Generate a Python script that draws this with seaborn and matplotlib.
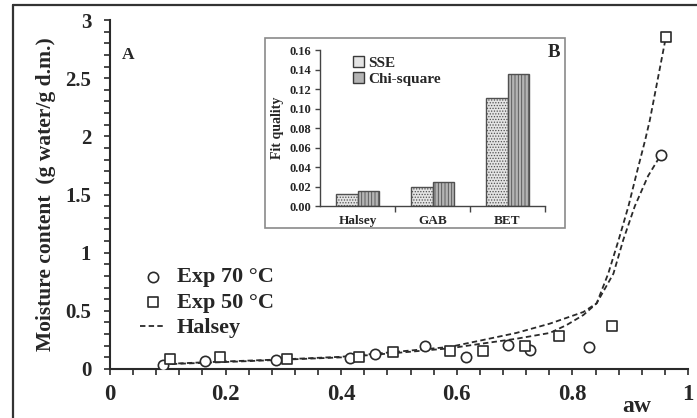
import numpy as np
import pandas as pd
import matplotlib
matplotlib.use("Agg")
import matplotlib.pyplot as plt
from matplotlib.lines import Line2D
from matplotlib.patches import Rectangle
from matplotlib.ticker import MultipleLocator, FixedLocator
import seaborn as sns

# ---------------- data ----------------
exp70_aw = [0.092, 0.164, 0.288, 0.416, 0.458, 0.545, 0.616, 0.689, 0.727, 0.829, 0.953]
exp70_m = [0.034, 0.070, 0.077, 0.092, 0.129, 0.198, 0.106, 0.204, 0.163, 0.192, 1.84]
exp50_aw = [0.103, 0.191, 0.306, 0.430, 0.489, 0.588, 0.646, 0.718, 0.776, 0.868, 0.962]
exp50_m = [0.086, 0.106, 0.083, 0.100, 0.149, 0.158, 0.158, 0.201, 0.284, 0.370, 2.857]

halsey70_aw = [0.092, 0.2, 0.3, 0.4, 0.5, 0.588, 0.646, 0.703, 0.761, 0.79, 0.819, 0.842,
               0.871, 0.888, 0.908, 0.931, 0.953]
halsey70_m = [0.040, 0.060, 0.080, 0.100, 0.140, 0.178, 0.220, 0.260, 0.310, 0.378, 0.464, 0.565,
              0.82, 1.11, 1.40, 1.66, 1.84]
halsey50_aw = [0.103, 0.2, 0.3, 0.4, 0.5, 0.588, 0.646, 0.703, 0.761, 0.819, 0.842, 0.862,
               0.880, 0.897, 0.911, 0.926, 0.934, 0.962]
halsey50_m = [0.045, 0.065, 0.083, 0.105, 0.150, 0.190, 0.250, 0.310, 0.390, 0.490, 0.565, 0.82,
              1.11, 1.40, 1.68, 1.97, 2.14, 2.86]

models = ["Halsey", "GAB", "BET"]
sse = [0.013, 0.020, 0.111]
chi_square = [0.016, 0.025, 0.136]

x_ticks = [0, 0.2, 0.4, 0.6, 0.8, 1.0]
x_ticklabels = ["0", "0.2", "0.4", "0.6", "0.8", "1"]
y_ticks = [0, 0.5, 1, 1.5, 2, 2.5, 3]
y_ticklabels = ["0", "0.5", "1", "1.5", "2", "2.5", "3"]
inset_ticks = [0.00, 0.02, 0.04, 0.06, 0.08, 0.10, 0.12, 0.14, 0.16]

# ---------------- style ----------------
sns.set_theme(style="white")
plt.rcParams["font.family"] = ["Liberation Serif", "DejaVu Serif"]
plt.rcParams["font.weight"] = "bold"
plt.rcParams["hatch.linewidth"] = 0.6

W, H = 697, 418
fig = plt.figure(figsize=(W / 100, H / 100), dpi=100)

def fx(px):
    return px / W

def fy(py):
    return 1 - py / H

ink = "#2a2a2a"

# outer border of the figure
fig.add_artist(Line2D([fx(13), fx(13)], [fy(5), 0], color="#333333", lw=1.6))
fig.add_artist(Line2D([fx(13), 1], [fy(5), fy(5)], color="#333333", lw=1.6))

# ---------------- main axes ----------------
ax = fig.add_axes([fx(110), fy(369), fx(688) - fx(110), fy(20) - fy(369)])
ax.set_zorder(0)

sns.lineplot(x=halsey70_aw, y=halsey70_m, ax=ax, color=ink, lw=1.3, sort=False,
             estimator=None, label="Halsey", linestyle=(0, (3.0, 1.8)))
sns.lineplot(x=halsey50_aw, y=halsey50_m, ax=ax, color=ink, lw=1.3, sort=False,
             estimator=None, label="_nolegend_", linestyle=(0, (3.0, 1.8)))
sns.scatterplot(x=exp70_aw, y=exp70_m, ax=ax, marker="o", s=55, facecolor="white",
                edgecolor=ink, linewidth=1.2, label="Exp 70 °C", zorder=3)
sns.scatterplot(x=exp50_aw, y=exp50_m, ax=ax, marker="s", s=62, facecolor="white",
                edgecolor=ink, linewidth=1.2, label="Exp 50 °C", zorder=3)

ax.set_xlim(0, 1)
ax.set_ylim(0, 3)
for s in ["top", "right"]:
    ax.spines[s].set_visible(False)
for s in ["left", "bottom"]:
    ax.spines[s].set_color(ink)
    ax.spines[s].set_linewidth(1.5)
ax.set_xticks(x_ticks)
ax.set_xticklabels(x_ticklabels, fontsize=16.5, fontweight="bold")
ax.set_yticks(y_ticks)
ax.set_yticklabels(y_ticklabels, fontsize=15, fontweight="bold")
ax.xaxis.set_minor_locator(MultipleLocator(0.04))
ax.yaxis.set_minor_locator(MultipleLocator(0.1))
ax.tick_params(axis="both", which="both", direction="out", length=4.5, width=1.2,
               color=ink, bottom=True, left=True)
ax.tick_params(axis="x", which="major", pad=6)
ax.tick_params(axis="y", which="major", pad=9)
ax.set_xlabel("")
ax.set_ylabel("Moisture content  (g water/g d.m.)", fontsize=15.5, fontweight="bold", labelpad=7)
ax.grid(False)

fig.text(fx(637), fy(407), "aw", fontsize=17, fontweight="bold", ha="center", va="center")
fig.text(fx(128), fy(55), "A", fontsize=12.5, fontweight="bold", ha="center", va="center")

h, l = ax.get_legend_handles_labels()
order = [l.index("Exp 70 °C"), l.index("Exp 50 °C"), l.index("Halsey")]
leg = ax.legend([h[i] for i in order], [l[i] for i in order], loc="upper left",
                bbox_to_anchor=(0.018, 0.35), frameon=False, handlelength=1.15,
                handletextpad=0.5, labelspacing=0.22,
                prop={"family": "Liberation Serif", "weight": "bold", "size": 16})

# ---------------- inset ----------------
fig.add_artist(Rectangle((fx(265), fy(228)), fx(565) - fx(265), fy(38) - fy(228),
                         transform=fig.transFigure, facecolor="white",
                         edgecolor="#8a8a8a", lw=1.2, zorder=1))

axi = fig.add_axes([fx(320), fy(206.2), fx(545) - fx(320), fy(50.4) - fy(206.2)])
axi.set_zorder(2)
axi.patch.set_alpha(0)

df = pd.DataFrame({
    "model": models * 2,
    "value": sse + chi_square,
    "metric": ["SSE"] * 3 + ["Chi-square"] * 3,
})
sns.barplot(data=df, x="model", y="value", hue="metric", ax=axi, width=0.58,
            palette=["#e4e4e4", "#b4b4b4"], edgecolor="#3a3a3a", linewidth=1.0,
            saturation=1, legend=True)
styles = [("#e4e4e4", "......"), ("#b4b4b4", "|||||")]
for cont, (fc, hatch) in zip(axi.containers, styles):
    for p in cont:
        p.set_facecolor(fc)
        p.set_hatch(hatch)
        p.set_edgecolor("#505050")

axi.set_ylim(0, 0.16)
axi.set_xlim(-0.5, 2.5)
axi.set_yticks(inset_ticks)
axi.set_yticklabels([f"{v:.2f}" for v in inset_ticks], fontsize=9, fontweight="bold")
axi.set_xticks(range(3))
axi.set_xticklabels(models, fontsize=9.5, fontweight="bold")
axi.xaxis.set_minor_locator(FixedLocator([0.5, 1.5, 2.5]))
axi.tick_params(axis="x", which="major", length=0, pad=6)
axi.tick_params(axis="x", which="minor", direction="out", length=4, width=1, color="#444444", bottom=True)
axi.tick_params(axis="y", which="major", direction="out", length=3.5, width=1, color="#444444",
                left=True, pad=3)
for s in ["top", "right"]:
    axi.spines[s].set_visible(False)
for s in ["left", "bottom"]:
    axi.spines[s].set_color("#444444")
    axi.spines[s].set_linewidth(1.0)
axi.set_xlabel("")
axi.set_ylabel("Fit quality", fontsize=10, fontweight="bold", labelpad=4)
axi.grid(False)
axi.text(1.04, 0.985, "B", transform=axi.transAxes, fontsize=13.5, fontweight="bold",
         ha="center", va="center")
axi.legend(loc="upper left", bbox_to_anchor=(0.085, 1.05), frameon=False,
           handlelength=0.7, handleheight=0.7, handletextpad=0.3, labelspacing=0.15,
           prop={"family": "Liberation Serif", "weight": "bold", "size": 11})

fig.savefig("out.png", dpi=100)
